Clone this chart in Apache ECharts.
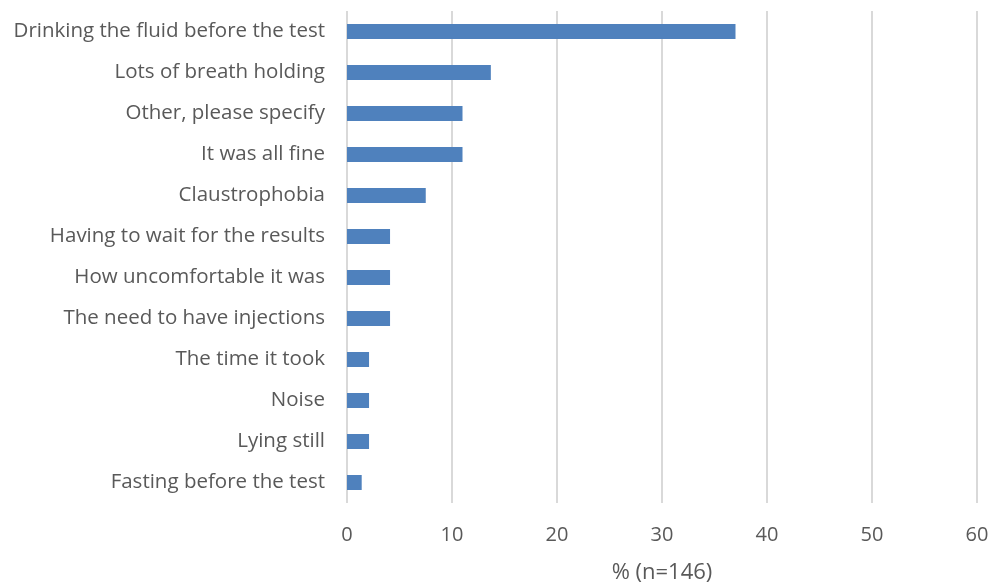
<!DOCTYPE html>
<html><head><meta charset="utf-8">
<script src="https://cdn.jsdelivr.net/npm/echarts@6/dist/echarts.min.js"></script>
<style>html,body{margin:0;padding:0;background:#fff}#c{width:1003px;height:584px}</style>
</head><body><div id="c"></div>
<script>
const categories = ["Drinking the fluid before the test","Lots of breath holding","Other, please specify","It was all fine","Claustrophobia","Having to wait for the results","How uncomfortable it was","The need to have injections","The time it took","Noise","Lying still","Fasting before the test"];
const values = [37.0, 13.7, 11.0, 11.0, 7.5, 4.1, 4.1, 4.1, 2.1, 2.1, 2.1, 1.4];
const xTicks = [0, 10, 20, 30, 40, 50, 60];
const axisTitle = "% (n=146)";

const chart = echarts.init(document.getElementById('c'), null, {renderer: 'canvas'});
const font = "'Open Sans', sans-serif";
chart.setOption({
  animation: false,
  grid: {left: 347, right: 26, top: 11, bottom: 81, containLabel: false, outerBoundsMode: 'none'},
  xAxis: {
    type: 'value', min: xTicks[0], max: xTicks[xTicks.length-1], interval: 10,
    axisLine: {show: false}, axisTick: {show: false},
    splitLine: {show: true, lineStyle: {color: '#d9d9d9', width: 2}},
    axisLabel: {color: '#595959', fontSize: 20, fontFamily: font, margin: 22},
    name: axisTitle, nameLocation: 'middle', nameGap: 59,
    nameTextStyle: {color: '#595959', fontSize: 22, fontFamily: font}
  },
  yAxis: {
    type: 'category', data: categories, inverse: true,
    axisLine: {show: false}, axisTick: {show: false},
    axisLabel: {color: '#595959', fontSize: 20.5, fontFamily: font, margin: 22}
  },
  series: [{
    type: 'bar', data: values, barWidth: 15,
    itemStyle: {color: '#4f81bd'}
  }]
});
</script></body></html>
